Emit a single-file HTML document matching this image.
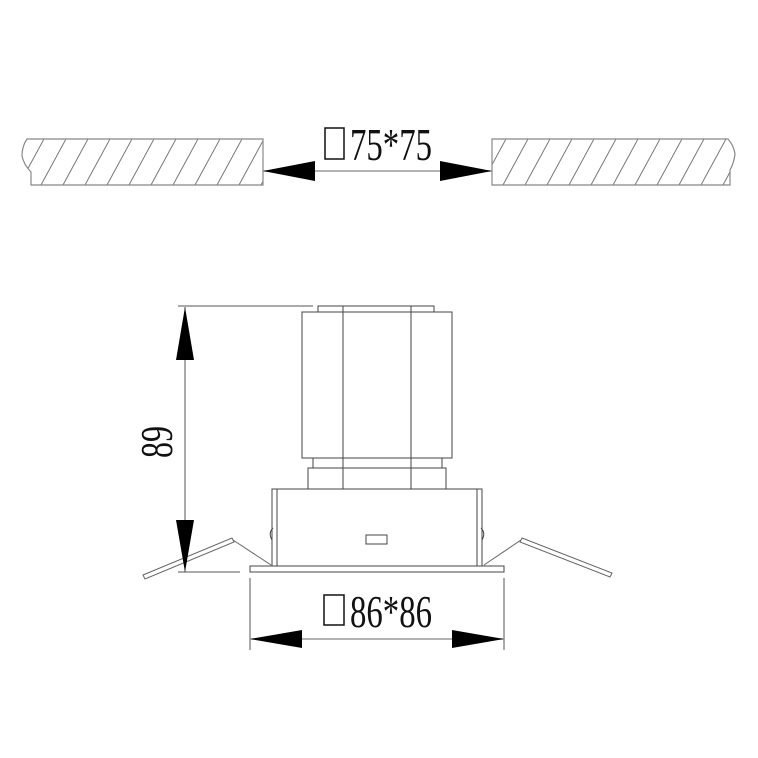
<!DOCTYPE html>
<html><head><meta charset="utf-8"><style>
html,body{margin:0;padding:0;background:#fff;width:758px;height:758px;overflow:hidden}
svg{display:block}
text{font-family:"Liberation Serif",serif;fill:#111}
</style></head><body>
<svg width="758" height="758" viewBox="0 0 758 758" xmlns="http://www.w3.org/2000/svg">
<defs>
<pattern id="h" patternUnits="userSpaceOnUse" width="22" height="46" x="0" y="139">
<line x1="22" y1="0" x2="-3" y2="46" stroke="#777" stroke-width="1"/>
<line x1="44" y1="0" x2="19" y2="46" stroke="#777" stroke-width="1"/>
</pattern>
</defs>
<g stroke="#888" stroke-width="1.2" fill="url(#h)">
<path d="M27,139 L263,139 L263,185 L31,185 L31,172 Q24,165 22,156 Q22,146 27,139 Z"/>
<path d="M492,139 L728,139 Q734,146 735,154 Q734,163 730,170 L730,185 L492,185 Z"/>
</g>
<!-- top dimension -->
<line x1="263" y1="171" x2="492" y2="171" stroke="#999" stroke-width="1.5"/>
<polygon points="263,171 315,161 315,181" fill="#000"/>
<polygon points="492,171 440,161 440,181" fill="#000"/>
<rect x="325" y="128" width="19" height="31" fill="none" stroke="#111" stroke-width="1.5"/>
<text x="350" y="160" font-size="46" textLength="82" lengthAdjust="spacingAndGlyphs">75*75</text>

<!-- lamp -->
<g stroke="#444" stroke-width="1" fill="none">
<rect x="318" y="306" width="116" height="6"/>
<rect x="302" y="312" width="150" height="146"/>
<rect x="313" y="458" width="129" height="10"/>
<rect x="308" y="468" width="138" height="21"/>
<line x1="343" y1="306" x2="343" y2="489"/>
<line x1="411" y1="306" x2="411" y2="489"/>
<rect x="272" y="489" width="210" height="77"/>
<line x1="277" y1="489" x2="277" y2="566"/>
<line x1="477" y1="489" x2="477" y2="566"/>
<rect x="366" y="535" width="21" height="9"/>
<rect x="250" y="566" width="254" height="6"/>
<path d="M273,528 Q268,533 272,540"/>
<path d="M481,528 Q486,533 482,540"/>
</g>
<!-- springs -->
<g stroke="#666" fill="none">
<path d="M143,575 L232,538 L234,542 L145,579 Z" stroke-width="1"/>
<line x1="233" y1="540" x2="271" y2="565" stroke-width="1"/>
<path d="M522,538 L612,573 L610,577 L520,542 Z" stroke-width="1"/>
<line x1="521" y1="540" x2="484" y2="565" stroke-width="1"/>
</g>
<!-- 89 dimension -->
<g stroke="#555" stroke-width="1">
<line x1="178" y1="306" x2="313" y2="306"/>
<line x1="178" y1="572" x2="240" y2="572"/>
<line x1="185" y1="307" x2="185" y2="572"/>
</g>
<polygon points="185,307 176,360 194,360" fill="#000"/>
<polygon points="185,572 176,520 194,520" fill="#000"/>
<text x="0" y="0" font-size="46" transform="translate(172,442) rotate(-90)" text-anchor="middle" textLength="32" lengthAdjust="spacingAndGlyphs">89</text>

<!-- 86 dimension -->
<g stroke="#555" stroke-width="1">
<line x1="250" y1="578" x2="250" y2="650"/>
<line x1="504" y1="578" x2="504" y2="650"/>
<line x1="250" y1="639" x2="504" y2="639" stroke="#999" stroke-width="1.5"/>
</g>
<polygon points="250,639 302,630 302,648" fill="#000"/>
<polygon points="504,639 452,630 452,648" fill="#000"/>
<rect x="324" y="595" width="20" height="30" fill="none" stroke="#111" stroke-width="1.5"/>
<text x="350" y="627" font-size="46" textLength="82" lengthAdjust="spacingAndGlyphs">86*86</text>
</svg>
</body></html>
